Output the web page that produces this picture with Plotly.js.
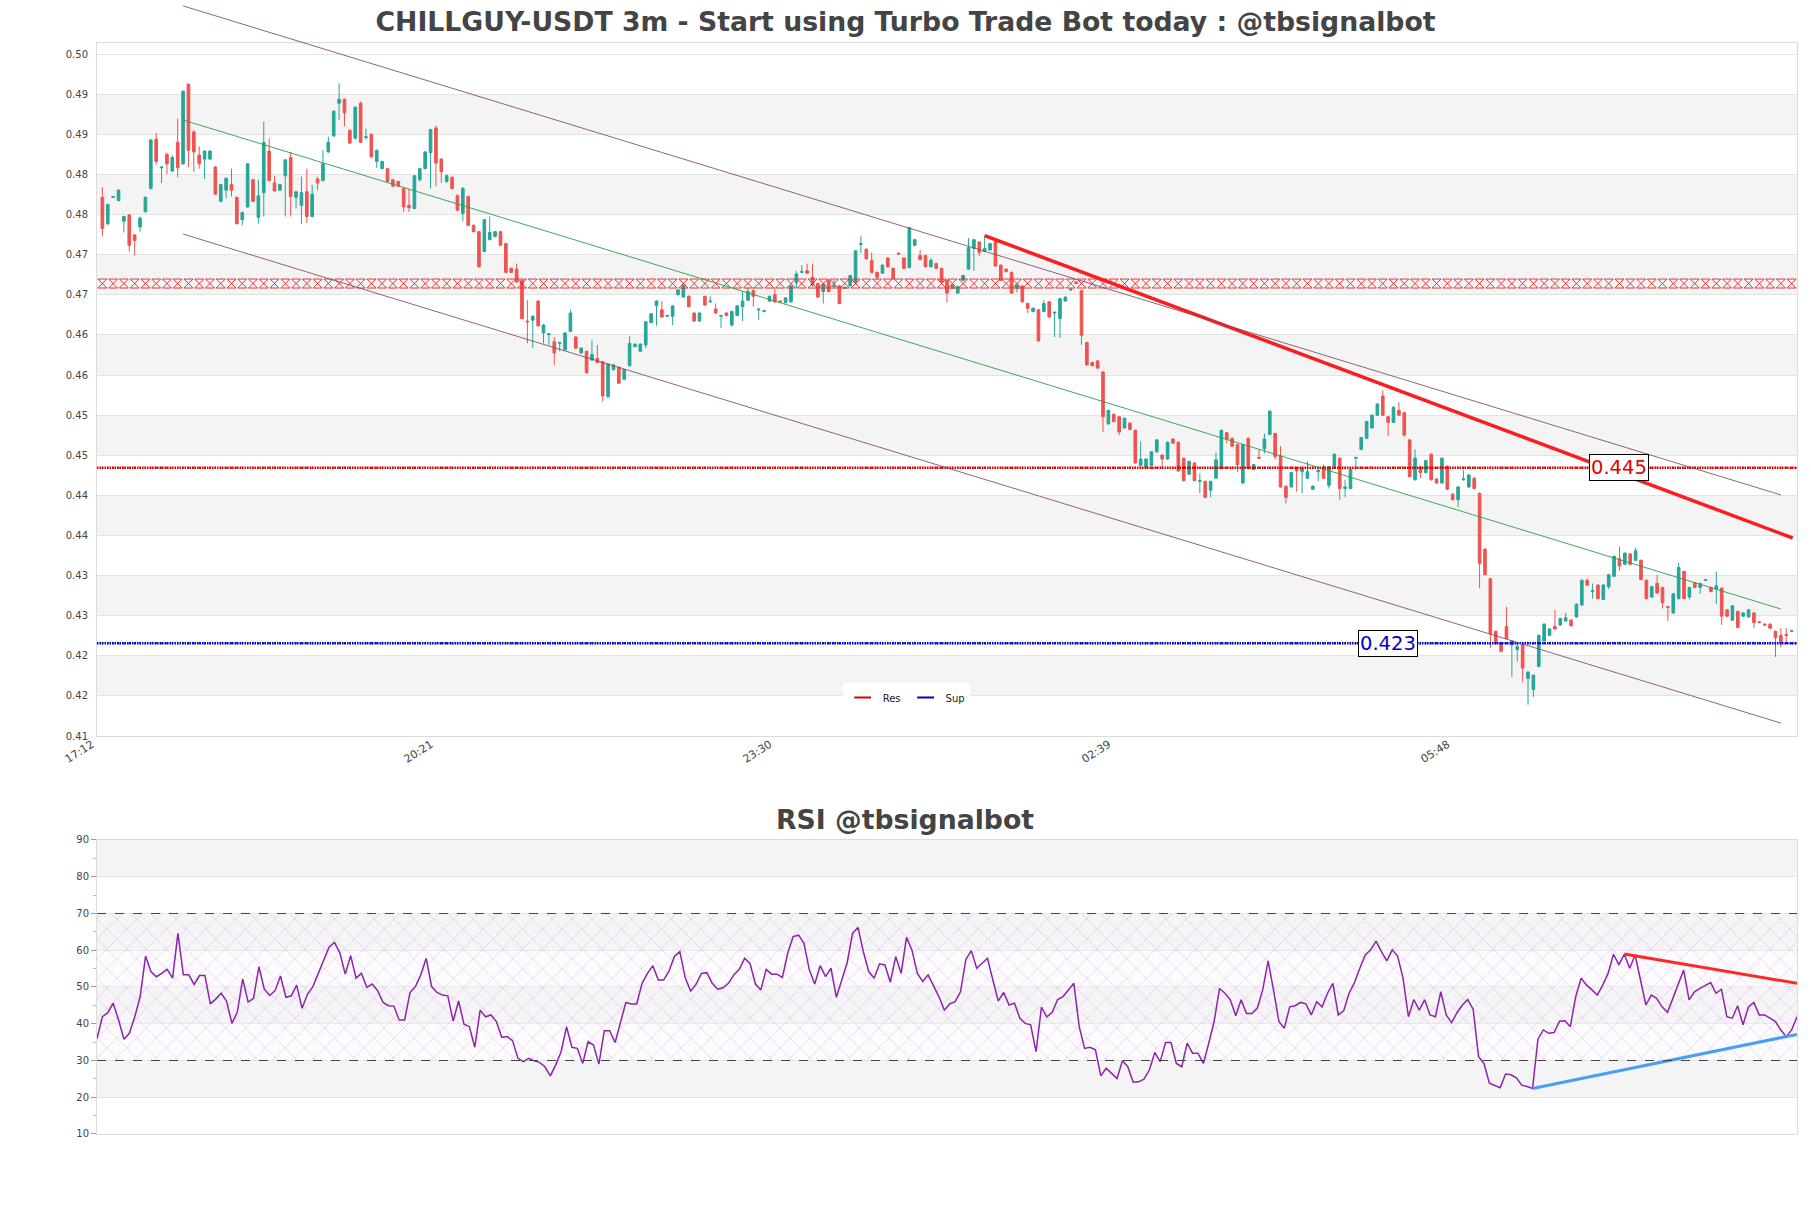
<!DOCTYPE html>
<html><head><meta charset="utf-8">
<script src="https://cdn.plot.ly/plotly-3.0.1.min.js"></script>
<style>html,body{margin:0;padding:0;background:#fff}#chart{width:1811px;height:1208px}</style>
</head><body><div id="chart"></div>
<script>
// ---- tick labels ----
const timeTicks = [-1, 62, 125, 188, 251];
const timeLabels = ['17:12', '20:21', '23:30', '02:39', '05:48'];
const priceTickVals = [0.41138,0.41641,0.42143,0.42646,0.43149,0.43652,0.44154,0.44657,0.45160,0.45662,0.46165,0.46668,0.47170,0.47673,0.48176,0.48679,0.49181,0.49684];
const priceTickText = ['0.41','0.42','0.42','0.43','0.43','0.44','0.44','0.45','0.45','0.46','0.46','0.47','0.47','0.48','0.48','0.49','0.49','0.50'];
const priceRange = [0.41138, 0.49825];
const rsiTickVals = [10,20,30,40,50,60,70,80,90];

// ---- OHLC (3m candles, 17:15 onwards) ----
const open = [
0.4789,0.4756,0.4789,0.4785,0.4759,0.4767,0.4742,0.4752,0.4771,0.4800,
0.4862,0.4826,0.4843,0.4822,0.4858,0.4831,0.4931,0.4871,0.4842,0.4837,
0.4837,0.4827,0.4784,0.4798,0.4805,0.4789,0.4761,0.4777,0.4811,0.4764,
0.4795,0.4847,0.4807,0.4798,0.4816,0.4839,0.4789,0.4779,0.4796,0.4765,
0.4812,0.4810,0.4846,0.4866,0.4907,0.4912,0.4873,0.4863,0.4907,0.4864,
0.4868,0.4834,0.4825,0.4825,0.4811,0.4809,0.4800,0.4779,0.4775,0.4811,
0.4825,0.4845,0.4876,0.4837,0.4809,0.4814,
0.4791,0.4769,0.4790,0.4754,0.4746,0.4721,0.4736,0.4740,0.4746,0.4731,
0.4700,0.4699,0.4685,0.4634,0.4635,0.4659,0.4619,0.4617,0.4608,0.4606,
0.4598,0.4621,0.4614,0.4594,0.4596,0.4585,0.4587,0.4583,0.4539,0.4573,
0.4576,0.4561,0.4578,0.4602,0.4596,0.4604,0.4632,0.4653,0.4648,0.4640,
0.4640,0.4667,0.4664,0.4665,0.4644,0.4634,0.4665,0.4658,0.4649,0.4640,
0.4644,0.4629,0.4641,0.4652,0.4660,0.4672,0.4648,0.4646,0.4659,0.4667,
0.4659,0.4657,0.4658,0.4682,0.4695,0.4697,
0.4689,0.4681,0.4671,0.4685,0.4677,0.4678,0.4675,0.4678,0.4682,0.4730,
0.4724,0.4710,0.4695,0.4694,0.4713,0.4700,0.4719,0.4713,0.4701,0.4729,
0.4716,0.4716,0.4702,0.4706,0.4700,0.4685,0.4679,0.4669,0.4685,0.4699,
0.4725,0.4733,0.4721,0.4723,0.4733,0.4704,0.4699,0.4695,0.4675,0.4678,
0.4656,0.4646,0.4648,0.4646,0.4658,0.4644,0.4637,0.4659,0.4673,0.4683,
0.4672,0.4607,0.4582,0.4584,0.4570,0.4505,0.4517,0.4514,0.4500,0.4506,
0.4497,0.4453,0.4451,0.4453,0.4470,
0.4466,0.4461,0.4486,0.4482,0.4462,0.4442,0.4456,0.4433,0.4433,0.4422,
0.4437,0.4449,0.4494,0.4487,0.4479,0.4431,0.4487,0.4448,0.4463,0.4474,
0.4492,0.4493,0.4465,0.4427,0.4426,0.4449,0.4445,0.4437,0.4423,0.4445,
0.4451,0.4428,0.4452,0.4462,0.4424,0.4424,0.4462,0.4473,0.4487,0.4500,
0.4516,0.4540,0.4514,0.4507,0.4522,0.4519,0.4485,0.4435,0.4451,0.4444,
0.4467,0.4436,0.4431,0.4452,0.4417,0.4410,0.4435,0.4426,0.4437,0.4418,
0.4348,0.4311,0.4245,0.4231,0.4251,0.4228,0.4222,0.4228,0.4186,0.4172,
0.4201,0.4233,0.4240,0.4251,0.4253,0.4258,0.4259,0.4263,0.4278,0.4309,
0.4295,0.4303,0.4285,0.4301,0.4314,0.4336,0.4329,0.4342,0.4334,0.4334,
0.4309,0.4288,0.4305,0.4300,0.4276,0.4268,0.4286,0.4320,0.4288,0.4306,
0.4300,0.4309,0.4300,0.4298,0.4299,0.4272,0.4259,0.4270,0.4264,0.4263,
0.4268,0.4257,0.4254,0.4254,0.4245,0.4240,0.4241,0.4245];
const high = [
0.4802,0.4781,0.4790,0.4799,0.4766,0.4768,0.4742,0.4765,0.4790,0.4862,
0.4870,0.4827,0.4845,0.4842,0.4888,0.4923,0.4931,0.4873,0.4853,0.4848,
0.4848,0.4828,0.4806,0.4814,0.4825,0.4790,0.4771,0.4832,0.4812,0.4811,
0.4884,0.4863,0.4816,0.4806,0.4837,0.4846,0.4797,0.4815,0.4825,0.4805,
0.4815,0.4848,0.4865,0.4898,0.4932,0.4913,0.4874,0.4903,0.4909,0.4875,
0.4869,0.4849,0.4835,0.4826,0.4812,0.4810,0.4801,0.4800,0.4817,0.4826,
0.4847,0.4875,0.4879,0.4838,0.4818,0.4816,
0.4793,0.4802,0.4791,0.4755,0.4747,0.4762,0.4765,0.4747,0.4747,0.4732,
0.4701,0.4706,0.4686,0.4660,0.4641,0.4660,0.4630,0.4618,0.4614,0.4608,
0.4620,0.4648,0.4615,0.4601,0.4597,0.4610,0.4604,0.4584,0.4581,0.4580,
0.4577,0.4574,0.4615,0.4606,0.4606,0.4634,0.4644,0.4660,0.4659,0.4641,
0.4654,0.4674,0.4680,0.4666,0.4645,0.4645,0.4665,0.4665,0.4656,0.4641,
0.4645,0.4647,0.4654,0.4671,0.4676,0.4676,0.4649,0.4647,0.4666,0.4676,
0.4660,0.4664,0.4679,0.4697,0.4704,0.4706,
0.4706,0.4682,0.4681,0.4686,0.4685,0.4679,0.4677,0.4692,0.4723,0.4741,
0.4725,0.4720,0.4696,0.4705,0.4714,0.4701,0.4720,0.4714,0.4752,0.4737,
0.4723,0.4717,0.4713,0.4707,0.4701,0.4686,0.4680,0.4678,0.4692,0.4738,
0.4737,0.4734,0.4741,0.4732,0.4734,0.4705,0.4700,0.4696,0.4680,0.4679,
0.4657,0.4651,0.4649,0.4660,0.4659,0.4645,0.4663,0.4665,0.4674,0.4684,
0.4673,0.4608,0.4583,0.4585,0.4571,0.4523,0.4518,0.4515,0.4513,0.4507,
0.4498,0.4483,0.4462,0.4471,0.4486,
0.4467,0.4483,0.4487,0.4483,0.4463,0.4459,0.4457,0.4443,0.4434,0.4434,
0.4469,0.4498,0.4495,0.4488,0.4480,0.4480,0.4488,0.4455,0.4473,0.4493,
0.4522,0.4494,0.4477,0.4428,0.4445,0.4450,0.4450,0.4458,0.4428,0.4448,
0.4454,0.4452,0.4468,0.4463,0.4435,0.4449,0.4463,0.4489,0.4509,0.4517,
0.4531,0.4547,0.4515,0.4527,0.4532,0.4520,0.4486,0.4473,0.4452,0.4460,
0.4468,0.4437,0.4463,0.4453,0.4418,0.4427,0.4447,0.4442,0.4438,0.4419,
0.4349,0.4312,0.4246,0.4232,0.4276,0.4234,0.4231,0.4229,0.4195,0.4191,
0.4241,0.4255,0.4249,0.4272,0.4262,0.4268,0.4260,0.4280,0.4310,0.4311,
0.4305,0.4304,0.4304,0.4317,0.4340,0.4351,0.4344,0.4343,0.4350,0.4335,
0.4310,0.4302,0.4316,0.4301,0.4276,0.4293,0.4331,0.4321,0.4301,0.4307,
0.4306,0.4310,0.4301,0.4320,0.4300,0.4273,0.4278,0.4271,0.4269,0.4273,
0.4269,0.4258,0.4255,0.4255,0.4246,0.4249,0.4249,0.4246];
const low = [
0.4740,0.4754,0.4789,0.4784,0.4745,0.4721,0.4716,0.4746,0.4770,0.4799,
0.4830,0.4807,0.4818,0.4821,0.4814,0.4830,0.4827,0.4821,0.4825,0.4812,
0.4836,0.4792,0.4783,0.4788,0.4790,0.4755,0.4754,0.4776,0.4783,0.4756,
0.4765,0.4809,0.4796,0.4797,0.4765,0.4765,0.4775,0.4756,0.4757,0.4764,
0.4798,0.4809,0.4845,0.4865,0.4886,0.4878,0.4856,0.4862,0.4857,0.4861,
0.4838,0.4826,0.4824,0.4808,0.4802,0.4802,0.4771,0.4771,0.4774,0.4809,
0.4824,0.4800,0.4803,0.4807,0.4807,0.4799,
0.4772,0.4759,0.4753,0.4745,0.4701,0.4720,0.4735,0.4739,0.4728,0.4694,
0.4694,0.4682,0.4636,0.4606,0.4600,0.4627,0.4606,0.4604,0.4579,0.4596,
0.4597,0.4620,0.4599,0.4593,0.4568,0.4584,0.4581,0.4533,0.4538,0.4572,
0.4555,0.4560,0.4577,0.4601,0.4595,0.4600,0.4631,0.4628,0.4638,0.4639,
0.4629,0.4666,0.4663,0.4651,0.4633,0.4633,0.4653,0.4657,0.4643,0.4625,
0.4640,0.4627,0.4640,0.4634,0.4659,0.4652,0.4635,0.4645,0.4658,0.4657,
0.4657,0.4656,0.4657,0.4675,0.4694,0.4693,
0.4677,0.4663,0.4656,0.4670,0.4676,0.4655,0.4674,0.4677,0.4681,0.4719,
0.4711,0.4694,0.4685,0.4693,0.4701,0.4686,0.4717,0.4699,0.4700,0.4728,
0.4710,0.4701,0.4701,0.4699,0.4682,0.4657,0.4674,0.4668,0.4684,0.4698,
0.4697,0.4715,0.4720,0.4722,0.4702,0.4684,0.4695,0.4668,0.4670,0.4657,
0.4644,0.4645,0.4608,0.4645,0.4638,0.4614,0.4613,0.4658,0.4672,0.4680,
0.4604,0.4578,0.4577,0.4574,0.4495,0.4504,0.4507,0.4491,0.4499,0.4497,
0.4455,0.4452,0.4450,0.4452,0.4469,
0.4449,0.4460,0.4480,0.4445,0.4433,0.4441,0.4433,0.4418,0.4412,0.4413,
0.4436,0.4448,0.4481,0.4476,0.4445,0.4430,0.4448,0.4447,0.4461,0.4468,
0.4491,0.4460,0.4425,0.4405,0.4425,0.4420,0.4418,0.4436,0.4422,0.4433,
0.4436,0.4424,0.4451,0.4410,0.4413,0.4423,0.4447,0.4472,0.4486,0.4499,
0.4515,0.4515,0.4490,0.4506,0.4515,0.4489,0.4438,0.4434,0.4437,0.4443,
0.4434,0.4430,0.4430,0.4422,0.4409,0.4401,0.4434,0.4425,0.4423,0.4299,
0.4315,0.4224,0.4228,0.4219,0.4235,0.4188,0.4207,0.4181,0.4153,0.4163,
0.4200,0.4232,0.4239,0.4247,0.4252,0.4257,0.4251,0.4262,0.4277,0.4302,
0.4286,0.4285,0.4284,0.4298,0.4313,0.4321,0.4328,0.4328,0.4333,0.4309,
0.4285,0.4287,0.4292,0.4274,0.4258,0.4267,0.4285,0.4285,0.4285,0.4299,
0.4292,0.4308,0.4294,0.4279,0.4253,0.4263,0.4258,0.4249,0.4263,0.4262,
0.4249,0.4255,0.4252,0.4248,0.4213,0.4225,0.4230,0.4244];
const close = [
0.4750,0.4780,0.4790,0.4798,0.4765,0.4729,0.4735,0.4763,0.4789,0.4861,
0.4834,0.4827,0.4831,0.4839,0.4826,0.4922,0.4848,0.4846,0.4831,0.4847,
0.4847,0.4793,0.4805,0.4813,0.4798,0.4756,0.4770,0.4831,0.4784,0.4791,
0.4858,0.4810,0.4797,0.4805,0.4836,0.4790,0.4796,0.4795,0.4765,0.4793,
0.4807,0.4831,0.4858,0.4897,0.4912,0.4895,0.4857,0.4902,0.4858,0.4865,
0.4840,0.4848,0.4834,0.4809,0.4803,0.4803,0.4777,0.4776,0.4816,0.4825,
0.4846,0.4874,0.4832,0.4821,0.4816,0.4800,
0.4773,0.4800,0.4754,0.4746,0.4702,0.4761,0.4745,0.4746,0.4729,0.4695,
0.4695,0.4683,0.4637,0.4633,0.4640,0.4628,0.4629,0.4618,0.4594,0.4607,
0.4619,0.4644,0.4600,0.4600,0.4569,0.4592,0.4582,0.4540,0.4580,0.4579,
0.4556,0.4573,0.4606,0.4605,0.4605,0.4633,0.4643,0.4659,0.4639,0.4641,
0.4653,0.4673,0.4679,0.4652,0.4634,0.4644,0.4654,0.4659,0.4644,0.4641,
0.4641,0.4646,0.4653,0.4659,0.4671,0.4665,0.4649,0.4647,0.4665,0.4658,
0.4658,0.4663,0.4678,0.4693,0.4696,0.4694,
0.4679,0.4664,0.4680,0.4671,0.4678,0.4656,0.4676,0.4691,0.4722,0.4731,
0.4712,0.4695,0.4689,0.4704,0.4702,0.4687,0.4718,0.4700,0.4751,0.4736,
0.4711,0.4702,0.4710,0.4700,0.4683,0.4669,0.4675,0.4677,0.4691,0.4726,
0.4736,0.4720,0.4725,0.4731,0.4703,0.4685,0.4696,0.4669,0.4679,0.4658,
0.4650,0.4650,0.4609,0.4656,0.4639,0.4645,0.4662,0.4664,0.4674,0.4681,
0.4616,0.4579,0.4578,0.4575,0.4514,0.4522,0.4508,0.4495,0.4512,0.4498,
0.4456,0.4461,0.4461,0.4470,0.4485,
0.4461,0.4482,0.4481,0.4446,0.4434,0.4458,0.4434,0.4434,0.4413,0.4433,
0.4460,0.4497,0.4486,0.4477,0.4454,0.4479,0.4449,0.4454,0.4462,0.4486,
0.4521,0.4464,0.4426,0.4413,0.4444,0.4446,0.4449,0.4445,0.4427,0.4447,
0.4437,0.4451,0.4467,0.4424,0.4426,0.4448,0.4463,0.4488,0.4508,0.4516,
0.4530,0.4516,0.4507,0.4526,0.4516,0.4491,0.4439,0.4462,0.4444,0.4459,
0.4435,0.4431,0.4462,0.4423,0.4410,0.4426,0.4436,0.4441,0.4424,0.4330,
0.4316,0.4242,0.4230,0.4220,0.4236,0.4233,0.4226,0.4199,0.4194,0.4190,
0.4240,0.4254,0.4248,0.4248,0.4261,0.4262,0.4252,0.4279,0.4309,0.4303,
0.4296,0.4286,0.4303,0.4316,0.4339,0.4327,0.4343,0.4329,0.4346,0.4310,
0.4286,0.4301,0.4293,0.4281,0.4275,0.4292,0.4325,0.4286,0.4300,0.4300,
0.4305,0.4310,0.4295,0.4302,0.4264,0.4264,0.4277,0.4250,0.4268,0.4272,
0.4256,0.4256,0.4253,0.4249,0.4237,0.4231,0.4240,0.4246];

// ---- RSI ----
const rsi = [
36.0,41.9,43.0,45.6,41.0,35.8,37.4,41.9,47.4,58.4,
54.2,52.8,53.7,54.8,52.4,64.6,53.3,53.3,50.7,53.1,
53.1,45.4,46.7,48.3,46.2,40.1,43.2,52.2,45.9,46.9,
55.5,49.4,47.7,49.0,53.0,47.2,47.6,50.5,44.2,48.0,
50.1,53.7,57.3,60.8,62.1,59.3,53.5,58.5,52.4,53.7,
49.9,50.8,49.0,45.8,44.9,44.8,41.0,41.0,48.5,50.1,
53.3,57.8,50.1,48.5,47.8,47.6,40.7,46.2,39.9,39.2,
33.6,43.7,41.9,42.4,40.6,36.3,36.5,35.4,30.6,29.7,
30.6,29.9,29.5,28.3,25.8,28.8,32.4,39.2,33.6,33.3,
29.2,35.1,34.2,29.0,38.1,38.1,34.9,40.1,45.8,45.4,
45.4,51.0,53.7,55.8,51.9,51.9,54.4,58.3,59.6,52.5,
48.9,50.7,53.7,53.9,51.0,49.4,49.8,51.0,53.3,54.8,
57.8,56.4,50.8,49.2,54.8,53.5,53.5,52.6,59.3,63.7,
64.1,61.9,54.6,50.8,55.8,52.8,55.1,47.2,51.9,56.6,
64.6,66.2,59.6,54.2,52.4,56.3,56.0,51.3,58.3,53.7,
63.5,60.1,53.7,51.5,53.3,50.5,47.4,43.7,45.4,46.0,
48.7,57.5,59.9,55.1,56.4,57.8,51.9,46.2,48.5,45.1,
45.6,41.5,40.1,39.7,32.4,44.5,41.9,43.1,46.6,47.4,
49.2,51.0,39.2,33.3,33.6,32.9,25.8,27.9,26.5,25.1,
29.9,28.3,24.1,24.2,24.9,27.4,32.2,29.7,34.9,34.9,
29.2,28.3,34.7,32.0,32.0,29.2,34.7,40.6,49.6,48.3,
46.5,42.2,46.5,42.8,42.8,44.2,49.2,57.1,49.2,40.6,
38.8,44.6,44.9,45.8,45.4,42.4,46.0,44.6,48.3,51.0,
42.4,43.5,48.3,51.2,55.1,58.7,60.1,62.5,59.6,57.1,
60.1,58.4,52.4,41.9,46.6,43.7,46.5,42.4,41.9,48.7,
42.4,40.3,43.0,45.1,46.6,43.9,31.0,29.2,23.8,23.2,
22.6,26.3,26.1,25.3,23.3,22.9,22.4,35.8,38.3,37.4,
37.6,40.7,40.8,39.2,47.4,52.4,50.5,49.2,47.8,50.5,
53.7,58.9,56.0,58.9,55.1,58.7,51.5,45.1,47.8,46.9,
44.6,43.1,46.9,50.5,54.6,46.5,48.7,49.6,50.3,51.2,
48.3,49.4,41.9,41.5,44.9,39.7,44.6,45.8,42.4,42.4,
41.5,40.6,38.3,36.5,38.3,41.9];

// ---- levels / lines ----
const resLevel = 0.445, supLevel = 0.423;
const zoneLevel = 0.4681;
const channelX = [15, 312];
const channelMid = [0.4886, 0.4273];
const channelHalf = 0.0143;
const resTrendX = [164, 314.2], resTrendY = [0.4741, 0.4362];
const rsiResX = [283, 315], rsiResY = [59.0, 51.0];
const rsiSupX = [266, 315], rsiSupY = [22.4, 37.1];
const resLabelX = 282, supLabelX = 239;

// ---- build ----
const idx = open.map((_, i) => i);
const rsiIdx = rsi.map((_, i) => i);
const xr = [-1, 315];
const levelX = [];
for (let i = xr[0]; i <= xr[1]; i++) levelX.push(i);
const zoneX = levelX.filter(i => i % 2 === 0);
const mainDomain = [0.3648, 1], rsiDomain = [0, 0.2695];
const toPaper = v => mainDomain[0] + (v - priceRange[0]) / (priceRange[1] - priceRange[0]) * (mainDomain[1] - mainDomain[0]);
const FONT = 'DejaVu Sans';
const RES_C = 'rgb(215,0,0)', SUP_C = 'rgb(0,0,190)';

const traces = [
  {type:'scatter', mode:'markers', x:zoneX, y:zoneX.map(() => zoneLevel),
   marker:{symbol:'hourglass-open', size:9, color:'rgba(225,35,35,0.9)', line:{width:1, color:'rgba(225,35,35,0.9)'}},
   hoverinfo:'skip', showlegend:false, xaxis:'x', yaxis:'y'},
  {type:'candlestick', x:idx, open:open, high:high, low:low, close:close,
   increasing:{line:{color:'#26a69a', width:1}, fillcolor:'#26a69a'},
   decreasing:{line:{color:'#ef5350', width:1}, fillcolor:'#ef5350'},
   showlegend:false, xaxis:'x', yaxis:'y'},
  // dotted level lines
  {type:'scatter', mode:'lines', x:xr, y:[resLevel,resLevel], line:{color:RES_C, width:2.6, dash:'1.5px,1px'}, showlegend:false, hoverinfo:'skip', xaxis:'x', yaxis:'y'},
  {type:'scatter', mode:'lines', x:xr, y:[supLevel,supLevel], line:{color:SUP_C, width:2.6, dash:'1.5px,1px'}, showlegend:false, hoverinfo:'skip', xaxis:'x', yaxis:'y'},
  // legend entries (tiny markers along the same levels)
  {type:'scatter', mode:'markers', name:'Res', x:levelX, y:levelX.map(() => resLevel),
   marker:{symbol:'line-ew', size:1, color:RES_C, line:{width:2, color:RES_C}}, hoverinfo:'skip', xaxis:'x', yaxis:'y'},
  {type:'scatter', mode:'markers', name:'Sup', x:levelX, y:levelX.map(() => supLevel),
   marker:{symbol:'line-ew', size:1, color:SUP_C, line:{width:2, color:SUP_C}}, hoverinfo:'skip', xaxis:'x', yaxis:'y'},
  {type:'scatter', mode:'lines', x:resTrendX, y:resTrendY, line:{color:'rgb(250,30,30)', width:3.5}, showlegend:false, hoverinfo:'skip', xaxis:'x', yaxis:'y'},
  {type:'scatter', x:[0,315,315,0,0], y:[30,30,70,70,30], fill:'toself', mode:'lines', line:{width:0},
   fillcolor:'rgba(255,255,255,0)',
   fillpattern:{shape:'x', fgcolor:'rgba(185,150,210,0.55)', bgcolor:'rgba(248,244,252,0.35)', size:14, solidity:0.08},
   hoverinfo:'skip', showlegend:false, xaxis:'x2', yaxis:'y2'},
  {type:'scatter', mode:'lines', x:rsiIdx, y:rsi, line:{color:'rgb(142,36,170)', width:1.5}, showlegend:false, xaxis:'x2', yaxis:'y2'},
  {type:'scatter', mode:'lines', x:rsiResX, y:rsiResY, line:{color:'rgb(255,40,40)', width:3}, showlegend:false, xaxis:'x2', yaxis:'y2'},
  {type:'scatter', mode:'lines', x:rsiSupX, y:rsiSupY, line:{color:'rgb(70,160,245)', width:3}, showlegend:false, xaxis:'x2', yaxis:'y2'}
];

const shapes = [];
for (let i = 1; i + 1 < priceTickVals.length; i += 2) {
  shapes.push({type:'rect', xref:'paper', yref:'y', x0:0, x1:1, y0:priceTickVals[i], y1:priceTickVals[i+1], fillcolor:'#f4f4f4', line:{width:0}, layer:'below'});
}
for (let i = 1; i + 1 < rsiTickVals.length; i += 2) {
  shapes.push({type:'rect', xref:'paper', yref:'y2', x0:0, x1:1, y0:rsiTickVals[i], y1:rsiTickVals[i+1], fillcolor:'#f4f4f4', line:{width:0}, layer:'below'});
}
[30, 70].forEach(v => shapes.push({type:'line', xref:'paper', yref:'y2', x0:0, x1:1, y0:v, y1:v, line:{color:'#444', width:1.2, dash:'dash'}}));
// regression channel
[-1, 0, 1].forEach(k => {
  shapes.push({type:'line', xref:'x', yref:'paper', x0:channelX[0], x1:channelX[1],
    y0:toPaper(channelMid[0] + k*channelHalf), y1:toPaper(channelMid[1] + k*channelHalf),
    line:{color: k === 0 ? 'rgba(40,160,70,0.9)' : 'rgba(130,70,95,0.85)', width:1}, layer:'above'});
});

const layout = {
  width:1811, height:1208,
  margin:{l:97, r:14, t:43, b:74, pad:0},
  paper_bgcolor:'#fff', plot_bgcolor:'#fff',
  font:{family:FONT, size:10, color:'#444'},
  title:{text:'<b>CHILLGUY-USDT 3m - Start using Turbo Trade Bot today : @tbsignalbot</b>', x:0.5, xref:'container', xanchor:'center',
         y:1 - 22/1208, yref:'container', yanchor:'middle', font:{family:FONT, size:26.7, color:'#444'}},
  showlegend:true,
  legend:{orientation:'h', x:0.476, xanchor:'center', y:0.40, yanchor:'middle', bgcolor:'rgba(255,255,255,0.95)',
          itemsizing:'constant', font:{size:10, color:'#222'}},
  xaxis:{domain:[0,1], anchor:'y', range:xr, tickvals:timeTicks, ticktext:timeLabels, tickangle:-32, showgrid:false, zeroline:false,
         showline:true, linecolor:'#dcdcdc', mirror:true, rangeslider:{visible:false}, tickfont:{size:11, color:'#444'},
         ticklabelshift:-5, ticklabelstandoff:-3},
  yaxis:{domain:mainDomain, anchor:'x', range:priceRange, tickvals:priceTickVals, ticktext:priceTickText, gridcolor:'#e3e3e3',
         showline:true, linecolor:'#dcdcdc', mirror:true, zeroline:false, ticks:'outside', ticklen:6, tickcolor:'rgba(0,0,0,0)', tickfont:{size:10, color:'#444'}},
  xaxis2:{domain:[0,1], anchor:'y2', range:[0, 315], showticklabels:false, showgrid:false, zeroline:false, showline:true, linecolor:'#dcdcdc', mirror:true},
  yaxis2:{domain:rsiDomain, anchor:'x2', range:[10,90], tickvals:rsiTickVals, gridcolor:'#e3e3e3', showline:true, linecolor:'#dcdcdc', mirror:true,
          zeroline:false, ticks:'outside', ticklen:5, tickcolor:'#999', tickfont:{size:10, color:'#444'},
          minor:{ticks:'outside', ticklen:3, dtick:5, tickcolor:'#bbb', showgrid:false}},
  shapes:shapes,
  annotations:[
    {text:'<b>RSI @tbsignalbot</b>', xref:'paper', yref:'paper', x:0.475, y:0.2887, xanchor:'center', yanchor:'middle', showarrow:false, font:{family:FONT, size:26.7, color:'#444'}},
    {text:'0.445', xref:'x', yref:'y', x:resLabelX, y:resLevel, showarrow:false, font:{family:FONT, size:19.5, color:'rgb(230,0,0)'}, bgcolor:'#fff', bordercolor:'#000', borderwidth:1, borderpad:1},
    {text:'0.423', xref:'x', yref:'y', x:supLabelX, y:supLevel, showarrow:false, font:{family:FONT, size:19.5, color:'rgb(0,0,210)'}, bgcolor:'#fff', bordercolor:'#000', borderwidth:1, borderpad:1}
  ]
};

Plotly.newPlot('chart', traces, layout, {staticPlot:true, displayModeBar:false});
</script>
</body></html>
